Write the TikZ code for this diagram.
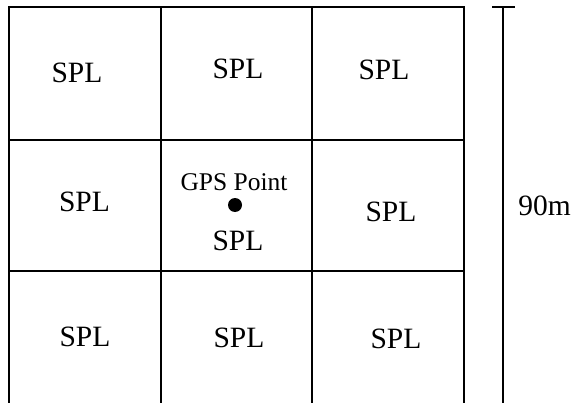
\documentclass[tikz,border=0pt]{standalone}
\usepackage{fontspec}
\setmainfont{Liberation Serif}
\begin{document}
\begin{tikzpicture}[x=1pt,y=1pt,
  gridline/.style={line width=1.7pt,black},
  innerline/.style={line width=1.4pt,black},
  lbl/.style={inner sep=0pt,font=\fontsize{29.5}{31}\selectfont},
  gps/.style={inner sep=0pt,font=\fontsize{25.5}{27}\selectfont},
  ptdot/.style={circle,fill=black,inner sep=0pt,minimum size=14pt}]
\useasboundingbox (0,0) rectangle (572,402);
% grid
\draw[gridline] (9,-2) -- (9,395) -- (464,395) -- (464,-2);
\draw[innerline] (161,-2) -- (161,395);
\draw[innerline] (312,-2) -- (312,395);
\draw[innerline] (9,262) -- (464,262);
\draw[innerline] (9,131) -- (464,131);
% dimension line
\coordinate (dtop) at (503,395);
\coordinate (dbot) at (503,-2);
\draw[gridline] (dtop) -- (dbot);
\draw[gridline] (492,395) -- (515,395);
\node[lbl] (dim) at (544.5,196) {90m};
% cell labels
\node[lbl] (s11) at (77,329.5) {SPL};
\node[lbl] (s12) at (238,333) {SPL};
\node[lbl] (s13) at (384,332) {SPL};
\node[lbl] (s21) at (84.5,200.5) {SPL};
\node[gps] (gpslbl) at (234,220) {GPS Point};
\node[ptdot] (gpsdot) at (235,197) {};
\node[lbl] (s22) at (238,161) {SPL};
\node[lbl] (s23) at (391,190) {SPL};
\node[lbl] (s31) at (85,65.3) {SPL};
\node[lbl] (s32) at (239,64) {SPL};
\node[lbl] (s33) at (396,63) {SPL};
\end{tikzpicture}
\end{document}
